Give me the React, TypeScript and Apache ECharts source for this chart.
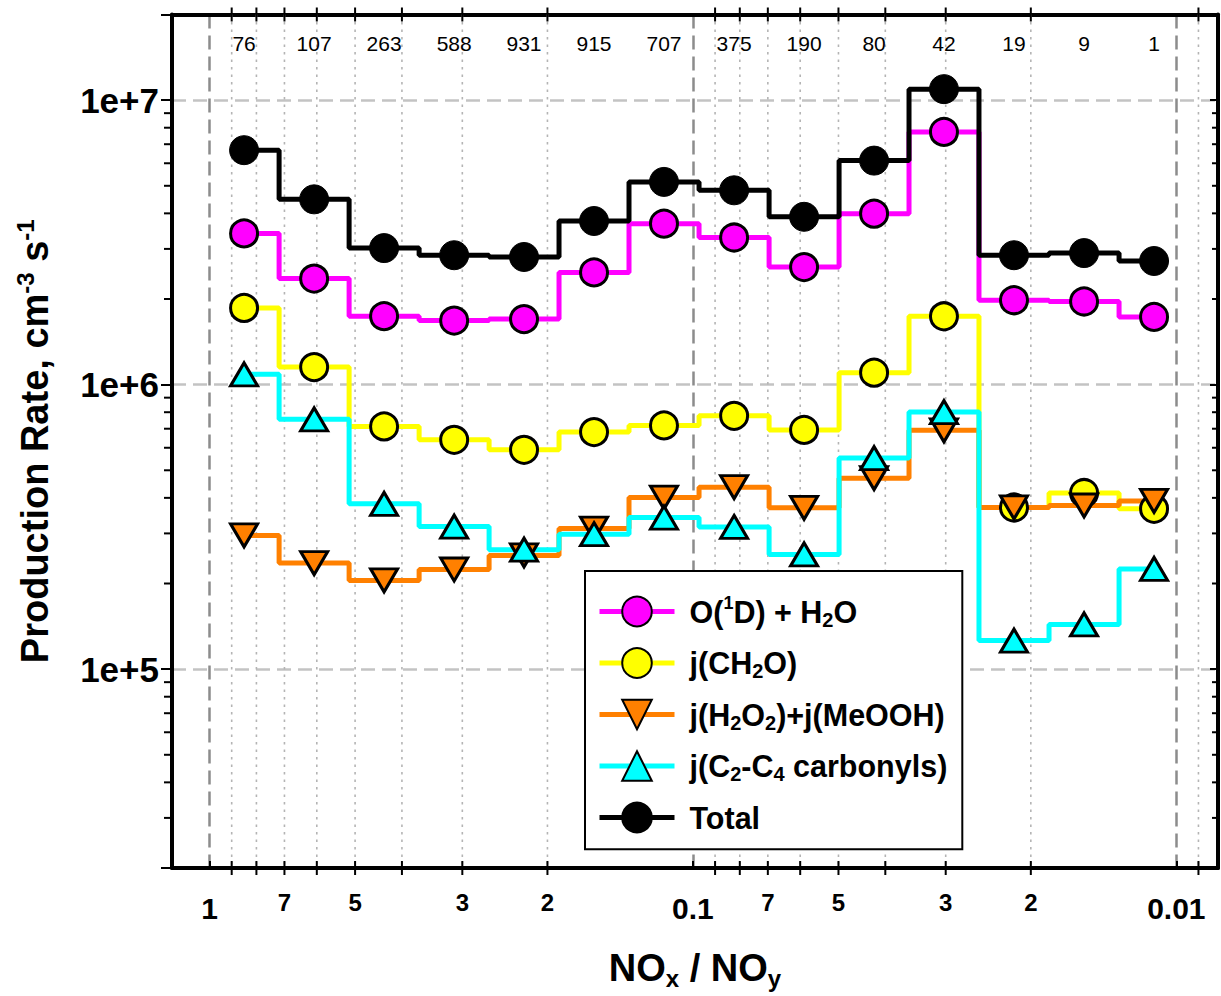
import React, { useEffect, useRef } from 'react';
import * as echarts from 'echarts';

const FONT = '"Liberation Sans", Arial, Helvetica, sans-serif';

// axis ranges
const X_MIN = 0.0082;
const X_MAX = 1.196;
const Y_MIN = 2e4;
const Y_MAX = 2e7;

// NOx/NOy bin centres and number of samples per bin
const binCenters = [0.8485, 0.6077, 0.4355, 0.3119, 0.2236, 0.1602, 0.1148, 0.0822, 0.0589, 0.0422, 0.03025, 0.02167, 0.01552, 0.01112];
const binCounts = ['76', '107', '263', '588', '931', '915', '707', '375', '190', '80', '42', '19', '9', '1'];

// production rates, cm-3 s-1
const o1dH2O = [3.40e6, 2.36e6, 1.74e6, 1.68e6, 1.70e6, 2.48e6, 3.68e6, 3.29e6, 2.59e6, 3.99e6, 7.73e6, 1.98e6, 1.96e6, 1.73e6];
const jCH2O = [1.86e6, 1.153e6, 7.13e5, 6.40e5, 5.90e5, 6.81e5, 7.19e5, 7.77e5, 6.93e5, 1.102e6, 1.739e6, 3.70e5, 4.16e5, 3.66e5];
const jPeroxides = [2.95e5, 2.36e5, 2.05e5, 2.24e5, 2.51e5, 3.12e5, 4.01e5, 4.36e5, 3.69e5, 4.69e5, 6.91e5, 3.70e5, 3.76e5, 3.90e5];
const jCarbonyls = [1.087e6, 7.55e5, 3.81e5, 3.17e5, 2.63e5, 2.98e5, 3.41e5, 3.16e5, 2.53e5, 5.52e5, 8.01e5, 1.26e5, 1.436e5, 2.25e5];
const total = [6.67e6, 4.48e6, 3.02e6, 2.85e6, 2.81e6, 3.76e6, 5.16e6, 4.82e6, 3.89e6, 6.13e6, 1.093e7, 2.85e6, 2.90e6, 2.72e6];

// ticks
const xMajorTicks = [1, 0.1, 0.01];
const xMajorLabels = ['1', '0.1', '0.01'];
const xMinorTicks = [0.9, 0.8, 0.7, 0.6, 0.5, 0.4, 0.3, 0.2, 0.09, 0.08, 0.07, 0.06, 0.05, 0.04, 0.03, 0.02, 0.009];
const xMinorLabels = ['', '', '7', '', '5', '', '3', '2', '', '', '7', '', '5', '', '3', '2', ''];
const yMajorTicks = [1e5, 1e6, 1e7];
const yMajorLabels = ['1e+5', '1e+6', '1e+7'];
const yMinorTicks = [3e4, 4e4, 5e4, 6e4, 7e4, 8e4, 9e4, 2e5, 3e5, 4e5, 5e5, 6e5, 7e5, 8e5, 9e5, 2e6, 3e6, 4e6, 5e6, 6e6, 7e6, 8e6, 9e6];

const seriesNames = ['O(1D) + H2O', 'j(CH2O)', 'j(H2O2)+j(MeOOH)', 'j(C2-C4 carbonyls)', 'Total'];
const legendLabels = [
  '{g| }{t|O(}{sp|1}{t|D) + H}{sb|2}{t|O}',
  '{g| }{t|j(CH}{sb|2}{t|O)}',
  '{g| }{t|j(H}{sb|2}{t|O}{sb|2}{t|)+j(MeOOH)}',
  '{g| }{t|j(C}{sb|2}{t|-C}{sb|4}{t| carbonyls)}',
  '{g| }{t|Total}',
];

const labelFor = (v: number, ticks: number[], labels: string[]) => {
  for (let i = 0; i < ticks.length; i++) {
    if (Math.abs(Math.log10(v) - Math.log10(ticks[i])) < 1e-6) return labels[i];
  }
  return '';
};

const DOWN_TRI = 'path://M0,0L20,0L10,17Z';

const mkSeries = (name: string, values: number[], color: string, symbol: string, size: any, border: number) => ({
  type: 'line',
  name,
  data: binCenters.map((x, i) => [x, values[i]]),
  step: 'middle',
  symbol,
  symbolSize: size,
  showSymbol: true,
  lineStyle: { color, width: 5 },
  itemStyle: { color, borderColor: '#000', borderWidth: border },
  emphasis: { disabled: true },
  z: 2,
});

const option: any = {
  animation: false,
  backgroundColor: '#fff',
  grid: { left: 172, top: 14.5, right: 0, bottom: 128, containLabel: false },
  legend: {
    orient: 'vertical',
    left: 585,
    top: 571,
    data: seriesNames,
    selectedMode: false,
    itemWidth: 75,
    itemHeight: 37,
    itemGap: 17.7,
    padding: [22.5, 15, 16, 12],
    backgroundColor: '#fff',
    borderColor: '#000',
    borderWidth: 2,
    lineStyle: { width: 5 },
    formatter: (name: string) => legendLabels[seriesNames.indexOf(name)],
    textStyle: {
      color: '#000',
      fontSize: 30,
      fontWeight: 'bold',
      fontFamily: FONT,
      rich: {
        g: { width: 10, fontSize: 30, lineHeight: 36 },
        t: { fontSize: 30.5, fontWeight: 'bold', fontFamily: FONT, color: '#000', lineHeight: 36 },
        sb: { fontSize: 20, fontWeight: 'bold', fontFamily: FONT, color: '#000', lineHeight: 16, verticalAlign: 'bottom' },
        sp: { fontSize: 18, fontWeight: 'bold', fontFamily: FONT, color: '#000', lineHeight: 12, verticalAlign: 'top' },
      },
    },
  },
  xAxis: [
    {
      type: 'log',
      min: X_MIN,
      max: X_MAX,
      inverse: true,
      position: 'bottom',
      axisLine: { show: true, lineStyle: { color: '#000', width: 4 } },
      axisTick: { show: true, inside: true, length: 7, lineStyle: { color: '#000', width: 2 } },
      axisLabel: {
        margin: 25,
        color: '#000',
        fontSize: 30,
        fontWeight: 'bold',
        fontFamily: FONT,
        formatter: (v: number) => labelFor(v, xMajorTicks, xMajorLabels),
      },
      splitLine: { show: true, showMinLine: false, showMaxLine: false, lineStyle: { color: '#8c8c8c', width: 2.5, type: [14, 7] } },
      name: '{t|NO}{sb|x}{t| / NO}{sb|y}',
      nameLocation: 'middle',
      nameGap: 78,
      nameTextStyle: {
        rich: {
          t: { fontSize: 38, fontWeight: 'bold', fontFamily: FONT, color: '#000', lineHeight: 44 },
          sb: { fontSize: 24, fontWeight: 'bold', fontFamily: FONT, color: '#000', lineHeight: 24, verticalAlign: 'bottom' },
        },
      },
    },
    {
      type: 'log',
      min: X_MIN,
      max: X_MAX,
      inverse: true,
      position: 'top',
      axisLine: { show: true, lineStyle: { color: '#000', width: 4 } },
      axisTick: { show: false },
      axisLabel: { show: false },
      splitLine: { show: false },
    },
  ],
  yAxis: [
    {
      type: 'log',
      min: Y_MIN,
      max: Y_MAX,
      position: 'left',
      axisLine: { show: true, lineStyle: { color: '#000', width: 4 } },
      axisTick: { show: true, inside: false, length: 11, lineStyle: { color: '#000', width: 2 } },
      axisLabel: {
        margin: 13,
        color: '#000',
        fontSize: 35,
        fontWeight: 'bold',
        fontFamily: FONT,
        formatter: (v: number) => labelFor(v, yMajorTicks, yMajorLabels),
      },
      splitLine: { show: true, showMinLine: false, showMaxLine: false, lineStyle: { color: '#c3c3c3', width: 2.5, type: [14, 7] } },
      name: '{t|Production Rate, cm}{sp|-3}{t| s}{sp|-1}',
      nameLocation: 'middle',
      nameGap: 115,
      nameTextStyle: {
        rich: {
          t: { fontSize: 38, fontWeight: 'bold', fontFamily: FONT, color: '#000', lineHeight: 44 },
          sp: { fontSize: 24, fontWeight: 'bold', fontFamily: FONT, color: '#000', lineHeight: 20, verticalAlign: 'top' },
        },
      },
    },
    {
      type: 'log',
      min: Y_MIN,
      max: Y_MAX,
      position: 'right',
      axisLine: { show: true, lineStyle: { color: '#000', width: 4 } },
      axisTick: { show: true, inside: true, length: 8, lineStyle: { color: '#000', width: 2 } },
      axisLabel: { show: false },
      splitLine: { show: false },
    },
  ],
  series: [
    {
      type: 'custom',
      name: 'xminor',
      xAxisIndex: 0,
      yAxisIndex: 0,
      z: 1,
      silent: true,
      data: xMinorTicks.map((v) => [v, Y_MIN]),
      renderItem: (params: any, api: any) => {
        const idx = params.dataIndex;
        const cs = params.coordSys;
        const x = api.coord([api.value(0), Y_MIN])[0];
        const top = cs.y;
        const bottom = cs.y + cs.height;
        const children: any[] = [
          { type: 'line', shape: { x1: x, y1: top, x2: x, y2: bottom }, style: { stroke: '#b4b4b4', lineWidth: 1.6, lineDash: [2.5, 5] } },
          { type: 'line', shape: { x1: x, y1: bottom - 7, x2: x, y2: bottom + 7 }, style: { stroke: '#000', lineWidth: 2 } },
          { type: 'line', shape: { x1: x, y1: top - 7, x2: x, y2: top + 7 }, style: { stroke: '#000', lineWidth: 2 } },
        ];
        const lab = xMinorLabels[idx];
        if (lab) {
          children.push({
            type: 'text',
            x,
            y: bottom + 22,
            style: { text: lab, fill: '#000', fontSize: 24, fontWeight: 'bold', fontFamily: FONT, align: 'center', verticalAlign: 'top' },
          });
        }
        return { type: 'group', children };
      },
    },
    {
      type: 'custom',
      name: 'yminor',
      xAxisIndex: 0,
      yAxisIndex: 0,
      z: 1,
      silent: true,
      data: yMinorTicks.map((v) => [X_MIN, v]),
      renderItem: (params: any, api: any) => {
        const cs = params.coordSys;
        const y = api.coord([X_MIN, api.value(1)])[1];
        const left = cs.x;
        const right = cs.x + cs.width;
        return {
          type: 'group',
          children: [
            { type: 'line', shape: { x1: left - 8, y1: y, x2: left, y2: y }, style: { stroke: '#000', lineWidth: 2 } },
            { type: 'line', shape: { x1: right - 6, y1: y, x2: right, y2: y }, style: { stroke: '#000', lineWidth: 2 } },
          ],
        };
      },
    },
    {
      type: 'custom',
      name: 'counts',
      xAxisIndex: 0,
      yAxisIndex: 0,
      z: 3,
      silent: true,
      data: binCenters.map((v) => [v, Y_MAX]),
      renderItem: (params: any, api: any) => {
        const cs = params.coordSys;
        const x = api.coord([api.value(0), Y_MAX])[0];
        return {
          type: 'text',
          x,
          y: cs.y + 29,
          style: { text: binCounts[params.dataIndex], fill: '#000', fontSize: 21, fontFamily: FONT, align: 'center', verticalAlign: 'middle' },
        };
      },
    },
    mkSeries(seriesNames[0], o1dH2O, '#ff00ff', 'circle', 27, 3),
    mkSeries(seriesNames[1], jCH2O, '#ffff00', 'circle', 27, 3),
    mkSeries(seriesNames[2], jPeroxides, '#ff8000', DOWN_TRI, [27, 23], 3),
    mkSeries(seriesNames[3], jCarbonyls, '#00ffff', 'triangle', [27, 23], 3),
    mkSeries(seriesNames[4], total, '#000000', 'circle', 29, 1),
  ],
};

export default function App() {
  const ref = useRef<HTMLDivElement>(null);
  useEffect(() => {
    const chart = echarts.init(ref.current!, undefined, { renderer: 'svg' });
    chart.setOption(option);
    return () => chart.dispose();
  }, []);
  return (
    <div
      ref={ref}
      style={{ position: 'absolute', left: 0, top: 0, width: 1221, height: 996, background: '#fff' }}
    />
  );
}
